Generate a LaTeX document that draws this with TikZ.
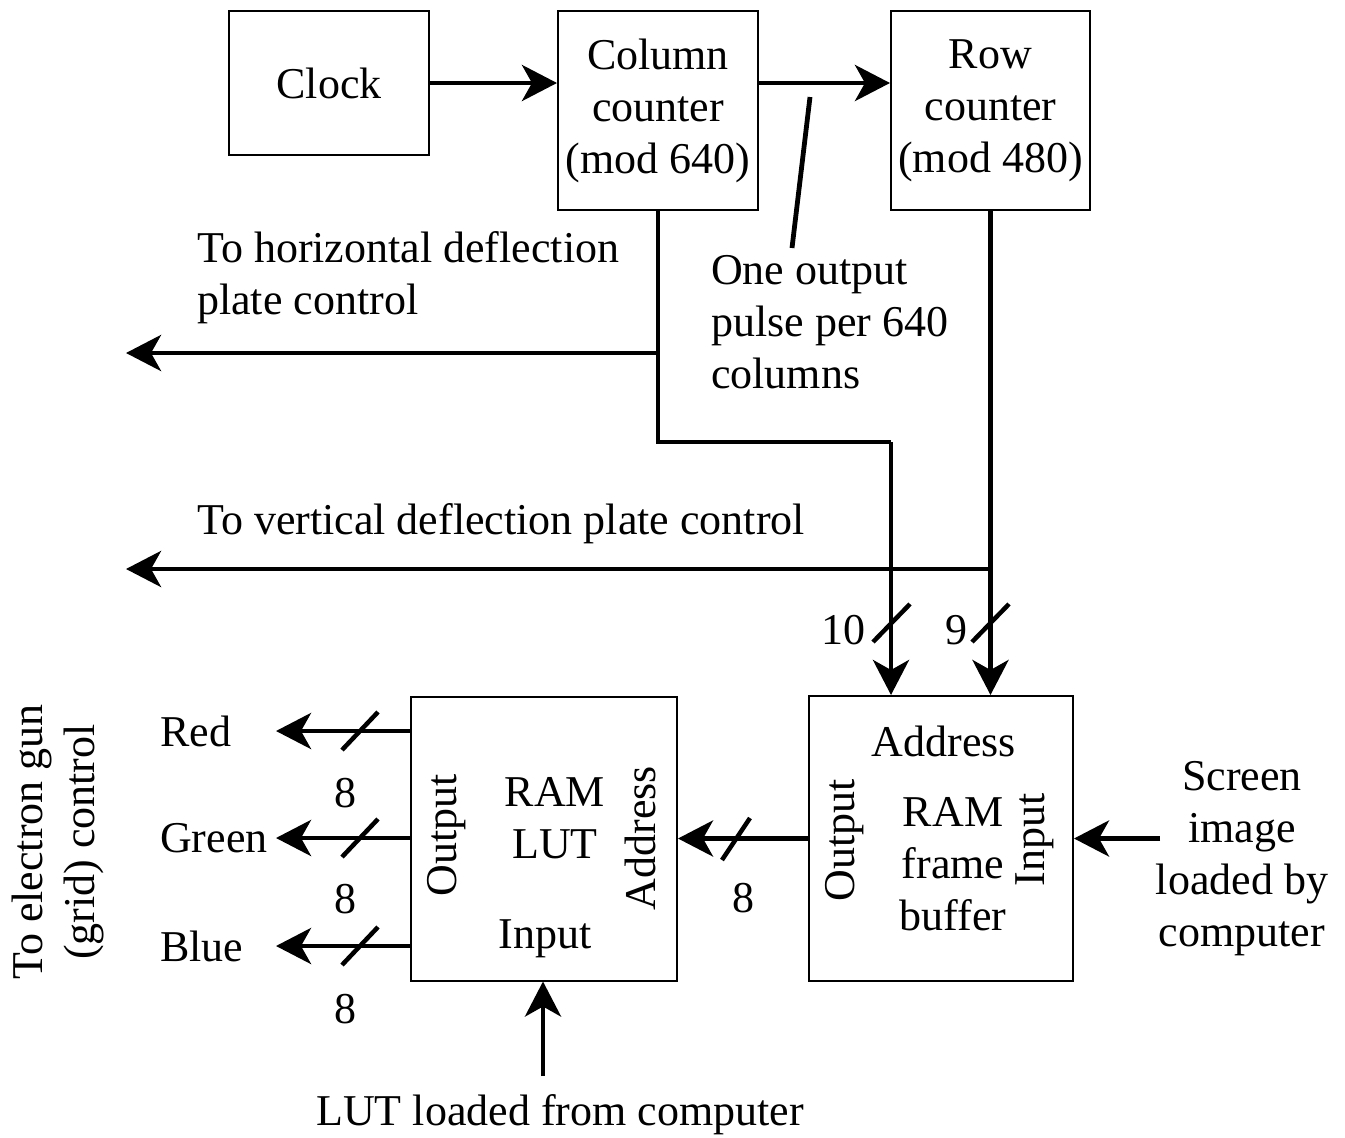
\documentclass[tikz,border=0pt]{standalone}
\usepackage{fontspec}
\setmainfont{Liberation Serif}
\usetikzlibrary{arrows.meta}

\tikzset{
  box/.style={draw, line width=2pt, inner sep=0pt, align=center},
  conn/.style={line width=4.8pt, -{Stealth[length=35pt, width=36pt, inset=10pt]}},
  wire/.style={line width=4.8pt},
  busmark/.style={line width=4.5pt},
  lbl/.style={inner sep=0pt, align=center},
  lbll/.style={inner sep=0pt, align=left},
}

\begin{document}
\begin{tikzpicture}[x=1pt, y=-1pt, font=\fontsize{44}{52}\selectfont]
\useasboundingbox (0,0) rectangle (1345,1138);

% counters
\node[box, minimum width=200pt, minimum height=144pt] (clock) at (329,83) {Clock};
\node[box, minimum width=200pt, minimum height=199pt] (colc) at (658,110.5) {Column\\counter\\(mod 640)};
\node[box, minimum width=199pt, minimum height=199pt] (rowc) at (990.5,110.5) {Row\\counter\\(mod 480)};

% memories
\node[box, minimum width=264pt, minimum height=285pt] (fb) at (941,838.5) {};
\node[box, minimum width=266pt, minimum height=284pt] (lut) at (544,838.5) {};

% clock chain, all on one level
\coordinate (clk) at (clock.east);
\draw[conn] (clk) -- (clk -| colc.west);
\draw[conn] (clk -| colc.east) -- (clk -| rowc.west);
\coordinate (ptop) at (810,97);
\coordinate (pbot) at (792,248);
\draw[wire] (ptop) -- (pbot);
\node[lbll, anchor=west] (pulse) at (711,322) {One output\\pulse per 640\\columns};

% column counter outputs
\coordinate (hl) at (126,353);
\coordinate (cbend) at (891,442);
\draw[wire] (colc.south) |- (cbend);
\draw[conn] (cbend) -- (cbend |- fb.north);
\draw[conn] (colc.south |- hl) -- (hl);
\node[lbll, anchor=west] (hlab) at (197,278) {To horizontal deflection\\plate control};

% row counter outputs
\coordinate (vl) at (126,569);
\draw[conn] (rowc.south) -- (rowc.south |- fb.north);
\draw[conn] (rowc.south |- vl) -- (vl);
\node[lbll, anchor=west] (vlab) at (197,524) {To vertical deflection plate control};

% address bus widths
\draw[busmark] (873,642) -- (910,604);
\draw[busmark] (972,642) -- (1009,604);
\node[lbl, anchor=east] (n10) at (866,630) {10};
\node[lbl, anchor=east] (n9) at (968,630) {9};

% frame buffer labels
\node[lbl] (fbaddr) at (944,741) {Address};
\node[lbl] (fbram) at (953,864) {RAM\\frame\\buffer};
\node[lbl, rotate=90] (fbout) at (845,840) {Output};
\node[lbl, rotate=90] (fbin) at (1035,840) {Input};

% frame buffer to LUT
\draw[conn] (fb.west) -- (lut.east);
\draw[busmark] (722,860) -- (750,818);
\node[lbl] (n8fb) at (743,898) {8};

% screen image input
\coordinate (si) at (1160,838.5);
\draw[conn] (si) -- (fb.east);
\node[lbl] (silab) at (1242,859) {Screen\\image\\loaded by\\computer};

% LUT labels
\node[lbl] (lutram) at (555,818) {RAM\\LUT};
\node[lbl] (lutin) at (545,939) {Input};
\node[lbl, rotate=90] (lutout) at (447,835) {Output};
\node[lbl, rotate=90] (lutaddr) at (640,838) {Address};

% LUT input
\coordinate (li) at (543,1076);
\draw[conn] (li) -- (li |- lut.south);
\node[lbl] (lilab) at (560,1115) {LUT loaded from computer};

% colour outputs
\coordinate (rr) at (276,731);
\coordinate (gg) at (276,838);
\coordinate (bb) at (276,946);
\draw[conn] (lut.west |- rr) -- (rr);
\draw[conn] (lut.west |- gg) -- (gg);
\draw[conn] (lut.west |- bb) -- (bb);
\draw[busmark] (342,750) -- (378,712);
\draw[busmark] (342,857) -- (378,819);
\draw[busmark] (342,965) -- (378,927);
\node[lbl] (n8r) at (345,793) {8};
\node[lbl] (n8g) at (345,899) {8};
\node[lbl] (n8b) at (345,1009) {8};
\node[lbl, anchor=west] (red) at (160,731) {Red};
\node[lbl, anchor=west] (green) at (160,838) {Green};
\node[lbl, anchor=west] (blue) at (160,946) {Blue};
\node[lbl, rotate=90] (gun) at (58,842) {To electron gun\\(grid) control};
\end{tikzpicture}
\end{document}
